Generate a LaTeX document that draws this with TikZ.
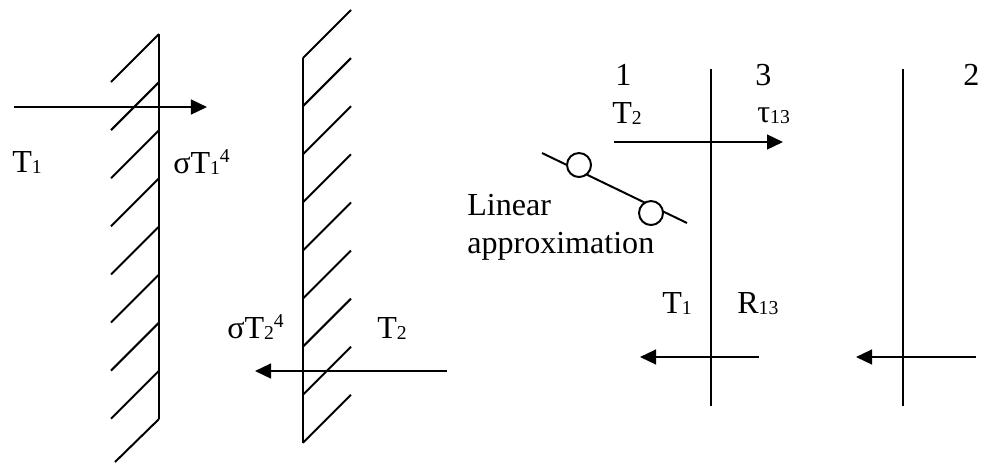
\documentclass[tikz,border=0pt]{standalone}
\usepackage{fontspec}
\setmainfont{Liberation Serif}
\usepackage{tikz}
\usetikzlibrary{arrows.meta}
\newcommand{\lowidx}[1]{\raisebox{-0.05em}{\fontsize{14}{14}\selectfont #1}}
\newcommand{\highidx}[1]{\raisebox{0.32em}{\fontsize{14}{14}\selectfont #1}}
\tikzset{
  wall/.style  ={line width=1.4pt},
  hatch/.style ={line width=1.4pt},
  flux/.style  ={-{Triangle[length=0.4cm,width=0.37cm]},line width=1.4pt},
  lbl/.style   ={anchor=base west,inner sep=0pt,font=\fontsize{22.8}{27}\selectfont},
  dot/.style   ={circle,draw,fill=white,line width=1.4pt,minimum size=0.6cm,inner sep=0pt},
}

\begin{document}
\begin{tikzpicture}[x=0.025cm,y=-0.025cm]
\useasboundingbox (0,0) rectangle (984,463);
% Left wall, hatched on its left side
\draw[wall] (159,34) -- (159,419);
\foreach \i in {0,...,7} \draw[hatch] (159,34+48.1*\i) -- (111,82+48.1*\i);
\draw[hatch] (159,419) -- (115,462);
% Right wall, hatched on its right side
\draw[wall] (303,58) -- (303,443);
\foreach \i in {0,...,8} \draw[hatch] (303,58+48.1*\i) -- (351,10+48.1*\i);
% Labels of the two walls
\node[lbl] (tL)   at (12,172)  {T\lowidx{1}};
\node[lbl] (sigL) at (173,173) {σT\lowidx{1}\highidx{4}};
\node[lbl] (sigR) at (227,338) {σT\lowidx{2}\highidx{4}};
\node[lbl] (tR)   at (377,338) {T\lowidx{2}};
% Fluxes through the walls
\coordinate (inL)  at (14,107);  \coordinate (outL) at (207,107);
\coordinate (inR)  at (447,371); \coordinate (outR) at (255,371);
\draw[flux] (inL) -- (outL);
\draw[flux] (inR) -- (outR);
% Layers 3 and 2
\coordinate (s3a) at (711,69); \coordinate (s3b) at (711,406);
\coordinate (s2a) at (903,69); \coordinate (s2b) at (903,406);
\draw[wall] (s3a) -- (s3b);
\draw[wall] (s2a) -- (s2b);
\node[lbl] (n1)  at (615,85)  {1};
\node[lbl] (n3)  at (755,85)  {3};
\node[lbl] (n2)  at (963,85)  {2};
\node[lbl] (tT2) at (612,123) {T\lowidx{2}};
\node[lbl] (tau) at (757,122) {τ\lowidx{13}};
\node[lbl] (tT1) at (662,313) {T\lowidx{1}};
\node[lbl] (rR)  at (737,313) {R\lowidx{13}};
\coordinate (ta) at (614,142); \coordinate (tb) at (783,142);
\coordinate (ra) at (759,357); \coordinate (rb) at (640,357);
\coordinate (qa) at (976,357); \coordinate (qb) at (856,357);
\draw[flux] (ta) -- (tb);
\draw[flux] (ra) -- (rb);
\draw[flux] (qa) -- (qb);
% Linear approximation
\coordinate (fa) at (542,153); \coordinate (fb) at (687,223);
\draw[hatch] (fa) -- (fb);
\node[dot] (p1) at (579,165) {};
\node[dot] (p2) at (651,213) {};
\node[lbl,align=left] (lin) at (467,253) {Linear\\approximation};
\end{tikzpicture}
\end{document}
